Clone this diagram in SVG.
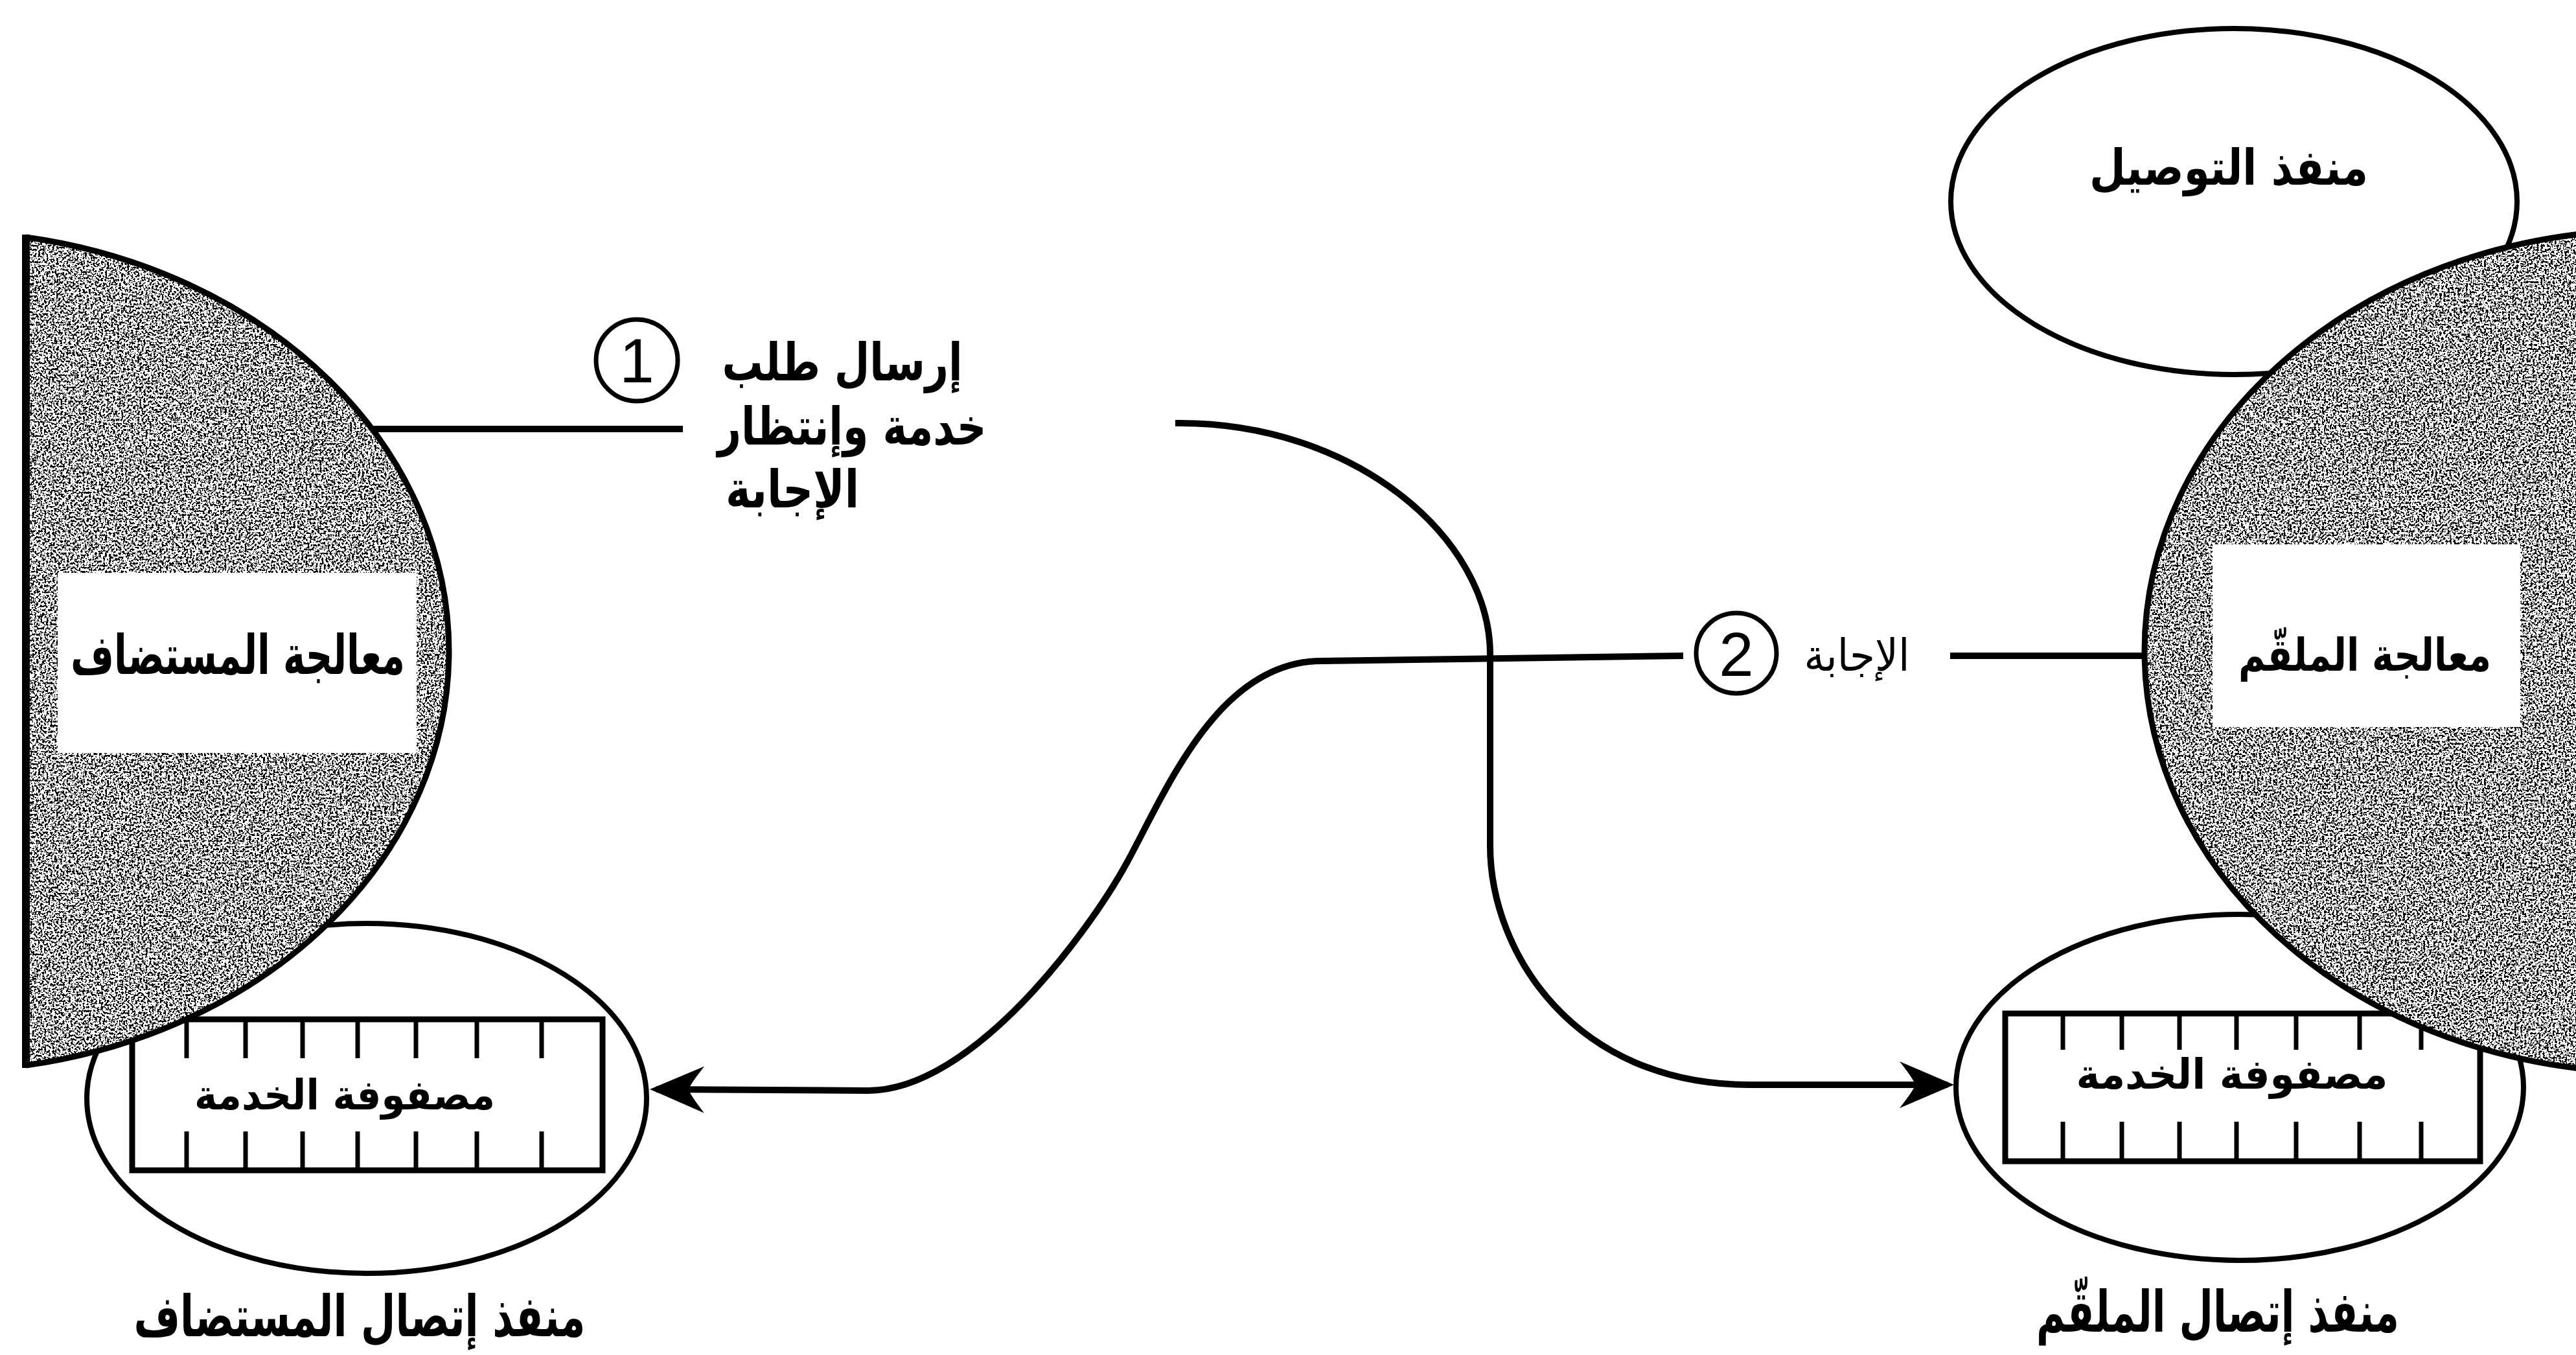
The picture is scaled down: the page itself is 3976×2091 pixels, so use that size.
<svg xmlns="http://www.w3.org/2000/svg" width="3976" height="2091" viewBox="0 0 3976 2091">
<style>
  .ol{fill:none;stroke:#000;stroke-width:9}
  .port{fill:#fff;stroke:#000;stroke-width:8}
  .queue{fill:#fff;stroke:#000;stroke-width:9}
  .tick{stroke:#000;stroke-width:7}
  .wire{fill:none;stroke:#000;stroke-width:10}
  .num{fill:#fff;stroke:#000;stroke-width:7}
  .ar{font-family:"DejaVu Sans",sans-serif;font-weight:bold;fill:#000;text-anchor:middle}
  .arl{font-family:"DejaVu Sans",sans-serif;font-weight:normal;fill:#000;text-anchor:middle}
  .dig{font-family:"Liberation Sans",Arial,sans-serif;fill:#000;text-anchor:middle}
  .white{fill:#fff}
</style>
<defs>
  <filter id="speckle" x="0" y="0" width="1" height="1" color-interpolation-filters="sRGB">
    <feTurbulence type="fractalNoise" baseFrequency="0.32" numOctaves="3" seed="5" result="n"/>
    <feColorMatrix in="n" type="matrix" values="0 0 0 0 0  0 0 0 0 0  0 0 0 0 0  -1 0 0 0 0.965" result="inv"/>
    <feComponentTransfer in="inv" result="thr"><feFuncA type="discrete" tableValues="0 1"/></feComponentTransfer>
    <feComposite in="thr" in2="SourceAlpha" operator="in" result="dots"/>
    <feFlood flood-color="#ffffff" result="w"/>
    <feComposite in="w" in2="SourceAlpha" operator="in" result="bg"/>
    <feMerge><feMergeNode in="bg"/><feMergeNode in="dots"/></feMerge>
  </filter>
  <marker id="arrow" markerUnits="userSpaceOnUse" markerWidth="100" markerHeight="90" viewBox="-90 -45 100 90" refX="-10" refY="0" orient="auto">
    <path d="M0,0 L-84,-36 Q-62,-8 -60,0 Q-62,8 -84,36 Z" fill="#000"/>
  </marker>
</defs>
<rect width="3976" height="2091" fill="#fff"/>

<g id="listen-port">
  <ellipse class="port" cx="3448" cy="311" rx="437" ry="267"/>
  <text class="ar" x="3440" y="285" font-size="76" textLength="430" lengthAdjust="spacingAndGlyphs">منفذ التوصيل</text>
</g>

<g id="host-port">
  <ellipse class="port" cx="566" cy="1695" rx="432" ry="270"/>
  <rect class="queue" x="204" y="1573" width="726" height="233"/>
  <g class="tick">
    <line x1="288" y1="1573" x2="288" y2="1633"/><line x1="379" y1="1573" x2="379" y2="1633"/>
    <line x1="467" y1="1573" x2="467" y2="1633"/><line x1="552" y1="1573" x2="552" y2="1633"/>
    <line x1="642" y1="1573" x2="642" y2="1633"/><line x1="736" y1="1573" x2="736" y2="1633"/>
    <line x1="836" y1="1573" x2="836" y2="1633"/>
    <line x1="288" y1="1746" x2="288" y2="1806"/><line x1="379" y1="1746" x2="379" y2="1806"/>
    <line x1="467" y1="1746" x2="467" y2="1806"/><line x1="552" y1="1746" x2="552" y2="1806"/>
    <line x1="642" y1="1746" x2="642" y2="1806"/><line x1="736" y1="1746" x2="736" y2="1806"/>
    <line x1="836" y1="1746" x2="836" y2="1806"/>
  </g>
  <text class="ar" x="532" y="1712" font-size="64" textLength="464" lengthAdjust="spacingAndGlyphs">مصفوفة الخدمة</text>
  <text class="ar" x="555" y="2062" font-size="88" textLength="697" lengthAdjust="spacingAndGlyphs">منفذ إتصال المستضاف</text>
</g>

<g id="server-port">
  <ellipse class="port" cx="3457" cy="1678" rx="438" ry="267"/>
  <rect class="queue" x="3095" y="1564" width="733" height="228"/>
  <g class="tick">
    <line x1="3184" y1="1564" x2="3184" y2="1620"/><line x1="3275" y1="1564" x2="3275" y2="1620"/>
    <line x1="3364" y1="1564" x2="3364" y2="1620"/><line x1="3452" y1="1564" x2="3452" y2="1620"/>
    <line x1="3544" y1="1564" x2="3544" y2="1620"/><line x1="3642" y1="1564" x2="3642" y2="1620"/>
    <line x1="3737" y1="1564" x2="3737" y2="1620"/>
    <line x1="3184" y1="1731" x2="3184" y2="1792"/><line x1="3275" y1="1731" x2="3275" y2="1792"/>
    <line x1="3364" y1="1731" x2="3364" y2="1792"/><line x1="3452" y1="1731" x2="3452" y2="1792"/>
    <line x1="3544" y1="1731" x2="3544" y2="1792"/><line x1="3642" y1="1731" x2="3642" y2="1792"/>
    <line x1="3737" y1="1731" x2="3737" y2="1792"/>
  </g>
  <text class="ar" x="3445" y="1680" font-size="64" textLength="481" lengthAdjust="spacingAndGlyphs">مصفوفة الخدمة</text>
  <text class="ar" x="3423" y="2055" font-size="88" textLength="560" lengthAdjust="spacingAndGlyphs">منفذ إتصال الملقّم</text>
</g>

<g id="host-process">
  <path d="M40,366 A783,648 0 0,1 40,1644 Z" fill="#000" filter="url(#speckle)"/>
  <path class="ol" d="M40,366 A783,648 0 0,1 40,1644"/>
  <line x1="40" y1="362" x2="40" y2="1648" stroke="#000" stroke-width="12"/>
  <rect class="white" x="89" y="884" width="554" height="278"/>
  <text class="ar" x="367" y="1040" font-size="84" textLength="516" lengthAdjust="spacingAndGlyphs">معالجة المستضاف</text>
</g>

<g id="server-process">
  <ellipse cx="4090" cy="1005" rx="780" ry="650" fill="#000" filter="url(#speckle)"/>
  <ellipse class="ol" cx="4090" cy="1005" rx="780" ry="650"/>
  <rect class="white" x="3415" y="840" width="475" height="282"/>
  <text class="ar" x="3650" y="1035" font-size="70" textLength="390" lengthAdjust="spacingAndGlyphs">معالجة الملقّم</text>
</g>

<g id="connectors">
  <line class="wire" x1="574" y1="662" x2="1054" y2="662"/>
  <path class="wire" marker-end="url(#arrow)" d="M1814,653 C2090,650 2300,830 2300,1010 L2300,1305 C2300,1470 2430,1674 2700,1674 L3006,1674"/>
  <path class="wire" marker-end="url(#arrow)" d="M2598,1012 L2040,1020 C1880,1020 1800,1220 1740,1330 C1680,1440 1500,1683 1340,1683 L1013,1681"/>
  <line class="wire" x1="3010" y1="1012" x2="3312" y2="1012"/>

  <g id="step-1">
    <circle class="num" cx="983" cy="556" r="63"/>
    <text class="dig" x="983" y="590" font-size="96">1</text>
    <text class="ar" x="1300" y="587" font-size="80" textLength="371" lengthAdjust="spacingAndGlyphs">إرسال طلب</text>
    <text class="ar" x="1315" y="686" font-size="80" textLength="415" lengthAdjust="spacingAndGlyphs">خدمة وإنتظار</text>
    <text class="ar" x="1223" y="783" font-size="80" textLength="206" lengthAdjust="spacingAndGlyphs">الإجابة</text>
  </g>
  <g id="step-2">
    <circle class="num" cx="2680" cy="1008" r="62"/>
    <text class="dig" x="2680" y="1043" font-size="96">2</text>
    <text class="arl" x="2866" y="1035" font-size="68" textLength="163" lengthAdjust="spacingAndGlyphs">الإجابة</text>
  </g>
</g>
</svg>
